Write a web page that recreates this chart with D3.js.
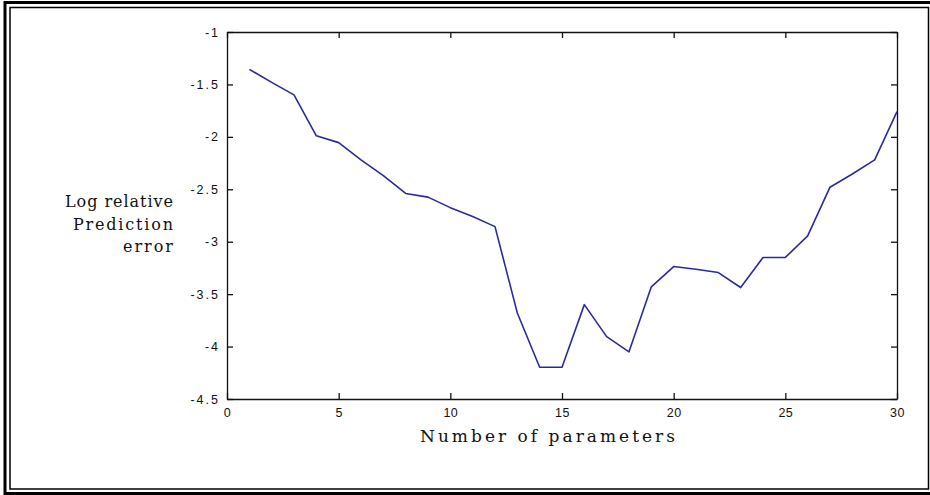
<!DOCTYPE html>
<html>
<head>
<meta charset="utf-8">
<script src="https://cdn.jsdelivr.net/npm/d3@7"></script>
<style>
  html, body { margin: 0; padding: 0; background: #fff; }
  svg { display: block; }
</style>
</head>
<body>
<svg id="chart" width="930" height="495"></svg>
<script>
// ---- data ----
const params = d3.range(1, 31);
const logError = [
  -1.356, -1.48, -1.60, -1.99, -2.055, -2.22, -2.37, -2.54, -2.575, -2.675,
  -2.76, -2.856, -3.68, -4.197, -4.197, -3.60, -3.905, -4.05, -3.43, -3.237,
  -3.262, -3.294, -3.437, -3.15, -3.15, -2.945, -2.48, -2.354, -2.22, -1.76
];
const xTicks = [0, 5, 10, 15, 20, 25, 30];
const yTicks = [-1, -1.5, -2, -2.5, -3, -3.5, -4, -4.5];
const yLabelLines = ["Log relative", "Prediction", "error"];
const xLabel = "Number of parameters";

// ---- layout ----
const svg = d3.select("#chart");
const plot = { left: 227, right: 897, top: 32, bottom: 399 };

// double frame
svg.append("rect").attr("x", 5).attr("y", 2.5).attr("width", 930).attr("height", 491)
  .attr("fill", "none").attr("stroke", "#000").attr("stroke-width", 3);
svg.append("rect").attr("x", 10).attr("y", 7.5).attr("width", 918.5).attr("height", 481.5)
  .attr("fill", "none").attr("stroke", "#000").attr("stroke-width", 1.5);

const x = d3.scaleLinear().domain([0, 30]).range([plot.left, plot.right]);
const y = d3.scaleLinear().domain([-4.5, -1]).range([plot.bottom, plot.top]);

const fmt = d => String(d);
const tickFont = "'Liberation Sans', Arial, sans-serif";

// left axis
const gl = svg.append("g").attr("transform", `translate(${plot.left},0)`)
  .call(d3.axisLeft(y).tickValues(yTicks).tickFormat(fmt).tickSizeInner(-6).tickSizeOuter(0).tickPadding(7));
// bottom axis
const gb = svg.append("g").attr("transform", `translate(0,${plot.bottom})`)
  .call(d3.axisBottom(x).tickValues(xTicks).tickFormat(fmt).tickSizeInner(-6).tickSizeOuter(0).tickPadding(9));
// top axis
const gt = svg.append("g").attr("transform", `translate(0,${plot.top})`)
  .call(d3.axisTop(x).tickValues(xTicks).tickFormat("").tickSizeInner(-6).tickSizeOuter(0));
// right axis
const gr = svg.append("g").attr("transform", `translate(${plot.right},0)`)
  .call(d3.axisRight(y).tickValues(yTicks).tickFormat("").tickSizeInner(-6).tickSizeOuter(0));

[gl, gb, gt, gr].forEach(g => {
  g.select(".domain").attr("stroke", "#111").attr("stroke-width", 1.3);
  g.selectAll(".tick line").attr("stroke", "#111").attr("stroke-width", 1.3);
  g.selectAll(".tick text").attr("fill", "#111")
    .style("font-family", tickFont).style("font-size", "12.5px");
});
gl.selectAll(".tick text").style("letter-spacing", "2px");
gb.selectAll(".tick text").style("letter-spacing", "0.5px");

// line
const line = d3.line().x((d, i) => x(params[i])).y(d => y(d));
svg.append("path").datum(logError)
  .attr("d", line)
  .attr("fill", "none")
  .attr("stroke", "#2a2a9e")
  .attr("stroke-width", 1.6)
  .attr("stroke-linejoin", "round");

// labels
const serif = "'DejaVu Serif', 'Liberation Serif', serif";
const yLabelWidths = [108, 100, 50];
const yBaselines = [207, 229.5, 251.5];
yLabelLines.forEach((t, i) => {
  svg.append("text")
    .attr("x", 173).attr("y", yBaselines[i])
    .attr("text-anchor", "end")
    .attr("textLength", yLabelWidths[i])
    .attr("lengthAdjust", "spacing")
    .style("font-family", serif).style("font-size", "16px").attr("fill", "#111")
    .text(t);
});
svg.append("text")
  .attr("x", 547.5).attr("y", 442)
  .attr("text-anchor", "middle")
  .attr("textLength", 255)
  .attr("lengthAdjust", "spacing")
  .style("font-family", serif).style("font-size", "17px").attr("fill", "#111")
  .text(xLabel);
</script>
</body>
</html>
